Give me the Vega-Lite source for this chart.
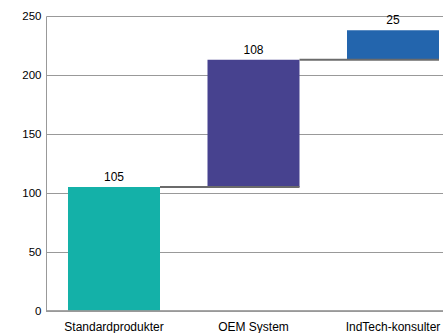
{
  "$schema": "https://vega.github.io/schema/vega-lite/v6.json",
  "width": 397,
  "height": 295,
  "autosize": {"type": "none"},
  "padding": {"left": 46, "top": 16, "right": 0, "bottom": 22},
  "background": "white",
  "config": {
    "view": {"stroke": null},
    "font": "Liberation Sans",
    "axis": {"labelFont": "Liberation Sans", "labelColor": "#000000", "labelFontSize": 11.5}
  },
  "data": {
    "values": [
      {"cat": "Standardprodukter", "start": 0, "end": 105, "label": "105", "next": "OEM System"},
      {"cat": "OEM System", "start": 105, "end": 213, "label": "108", "next": "IndTech-konsulter"},
      {"cat": "IndTech-konsulter", "start": 213, "end": 238, "label": "25", "next": null}
    ]
  },
  "encoding": {
    "x": {
      "field": "cat",
      "type": "nominal",
      "sort": null,
      "scale": {"paddingInner": 0.3405, "paddingOuter": 0.1577, "range": [0, 415]},
      "axis": {"title": null, "labelAngle": 0, "ticks": false, "domain": false, "labelPadding": 10, "labelFontSize": 12}
    }
  },
  "layer": [
    {
      "mark": {"type": "bar"},
      "encoding": {
        "y": {
          "field": "start",
          "type": "quantitative",
          "scale": {"domain": [0, 250], "nice": false},
          "axis": {"title": null, "values": [0, 50, 100, 150, 200, 250], "ticks": false, "labelPadding": 5, "domainColor": "#999999", "gridColor": "#999999", "gridOpacity": 1, "grid": true}
        },
        "y2": {"field": "end"},
        "color": {
          "field": "cat",
          "type": "nominal",
          "scale": {"domain": ["Standardprodukter", "OEM System", "IndTech-konsulter"], "range": ["#14B1A8", "#47428F", "#2365AD"]},
          "legend": null
        }
      }
    },
    {
      "transform": [{"filter": "datum.next != null"}],
      "mark": {"type": "rule", "color": "#6b6b6b", "strokeWidth": 2},
      "encoding": {
        "x": {"field": "cat", "type": "nominal", "sort": null, "bandPosition": 1},
        "x2": {"field": "next", "bandPosition": 1},
        "y": {"field": "end", "type": "quantitative"}
      }
    },
    {
      "mark": {"type": "rule", "color": "#999999", "strokeWidth": 1},
      "encoding": {
        "x": {"value": 0},
        "x2": {"value": 397},
        "y": {"datum": 0, "type": "quantitative"}
      }
    },
    {
      "mark": {"type": "text", "baseline": "bottom", "dy": -3, "fontSize": 12, "fill": "#000000"},
      "encoding": {
        "y": {"field": "end", "type": "quantitative"},
        "text": {"field": "label"}
      }
    }
  ]
}
